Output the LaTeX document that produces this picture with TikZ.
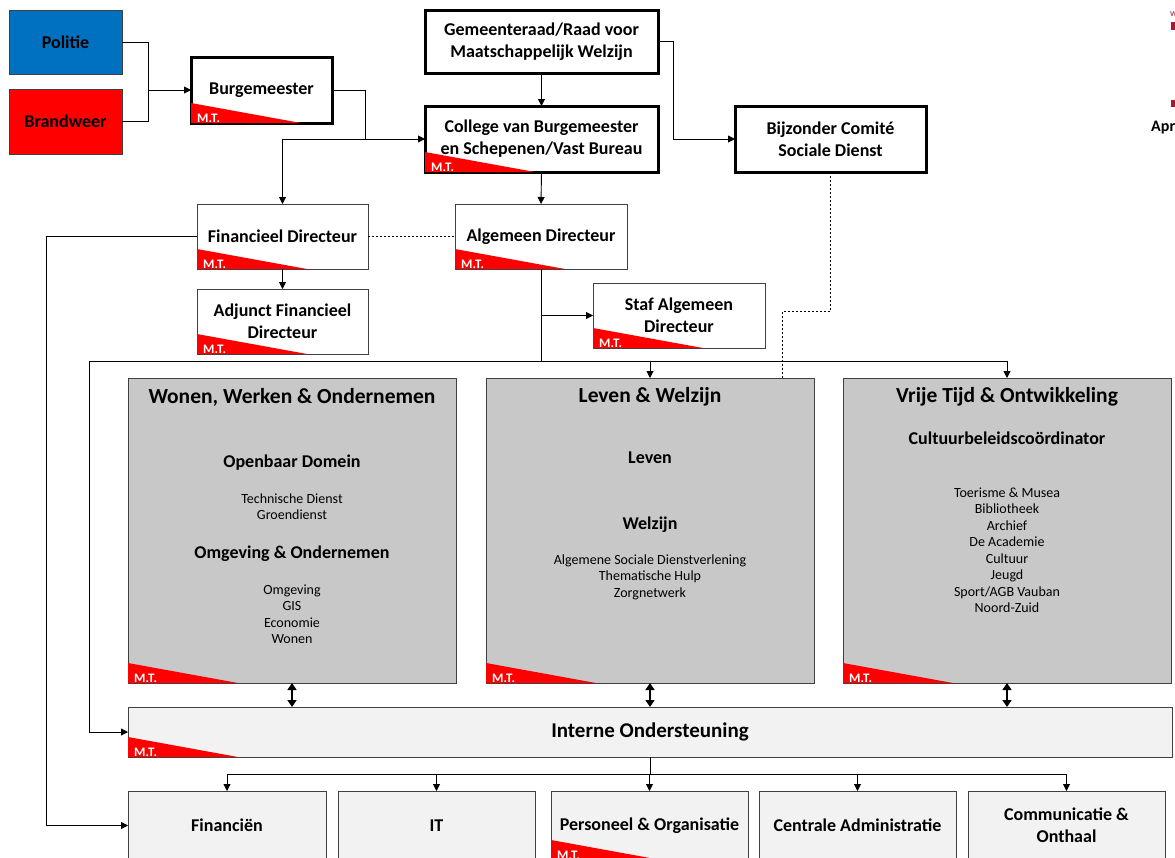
\documentclass[tikz,border=0pt]{standalone}
\usepackage{fontspec}
\setmainfont{Carlito}
\usetikzlibrary{arrows.meta,calc}
\definecolor{polblue}{HTML}{0070C0}
\definecolor{firered}{HTML}{FF0000}
\definecolor{mtred}{HTML}{FF0000}
\definecolor{deptgray}{HTML}{C8C8C8}
\definecolor{supgray}{HTML}{F2F2F2}
\definecolor{edge}{HTML}{404040}
\definecolor{logored}{HTML}{A6192E}
\newcommand{\mtflag}[1]{%
  \fill[mtred] (#1.south west) -- ++(0,-20) -- ++(110,20) -- cycle;
  \node[mtlabel] (#1-mt) at ($(#1.south west)+(6,-1)$) {M.T.};
}

\begin{document}
\begin{tikzpicture}[x=1pt,y=-1pt,
  lbl/.style={font=\fontsize{18}{22}\selectfont\bfseries, align=center},
  unitbox/.style={lbl, rectangle, draw=edge, line width=0.8pt, inner sep=0pt, outer sep=0pt},
  govbox/.style={unitbox, draw=black, line width=3pt},
  mgmtbox/.style={unitbox, minimum width=171pt, minimum height=65pt},
  deptbox/.style={rectangle, draw=edge, fill=deptgray, line width=0.8pt, minimum width=328pt, minimum height=305pt, outer sep=0pt},
  supbox/.style={unitbox, fill=supgray, minimum height=69pt},
  depttitle/.style={font=\fontsize{21.5}{26}\selectfont\bfseries},
  items/.style={font=\fontsize{14}{16.5}\selectfont, align=center},
  mtlabel/.style={font=\fontsize{13}{13}\selectfont\bfseries, text=white, anchor=base west, inner sep=0pt},
  arr/.style={draw, line width=0.9pt, -{Triangle[length=7pt,width=7pt]}},
  dbl/.style={draw, line width=1.5pt, {Triangle[length=7pt,width=9pt]}-{Triangle[length=7pt,width=9pt]}},
  wire/.style={draw, line width=0.9pt},
  dashlink/.style={draw, line width=0.8pt, dash pattern=on 2pt off 2pt},
]
\useasboundingbox (0,0) rectangle (1175,857);

% politieke top
\node[unitbox, fill=polblue, minimum width=113pt, minimum height=64pt] (politie) at (65.5,42) {Politie};
\node[unitbox, fill=firered, minimum width=113pt, minimum height=65pt] (brand) at (65.5,121.5) {Brandweer};
\node[govbox, minimum width=141pt, minimum height=66pt] (burg) at (261.5,90) {Burgemeester};
\node[govbox, minimum width=233pt, minimum height=63pt] (gemeente) at (541.5,41.5) {Gemeenteraad/Raad voor\\Maatschappelijk Welzijn};
\node[govbox, minimum width=233pt, minimum height=66pt] (college) at (541.5,139) {College van Burgemeester\\en Schepenen/Vast Bureau};
\node[govbox, minimum width=191pt, minimum height=66pt] (bijz) at (830.5,139) {Bijzonder Comité\\Sociale Dienst};

% directie
\node[mgmtbox] (findir) at (282.5,236.5) {Financieel Directeur};
\node[mgmtbox] (adjunct) at (282.5,321.5) {Adjunct Financieel\\Directeur};
\node[mgmtbox, minimum width=172pt] (algdir) at (541,236.5) {Algemeen Directeur};
\node[mgmtbox, minimum width=172pt] (staf) at (679,315.5) {Staf Algemeen\\Directeur};

% departementen
\node[deptbox] (wonen) at (292,530.5) {};
\node[deptbox] (leven) at (650,530.5) {};
\node[deptbox] (vrije) at (1007,530.5) {};

\node[depttitle] (wonen-title) at (292,397) {Wonen, Werken \& Ondernemen};
\node[lbl] (openbaar) at (292,463) {Openbaar Domein};
\node[items] (openbaar-items) at (292,506.5) {Technische Dienst\\Groendienst};
\node[lbl] (omgeving) at (292,554) {Omgeving \& Ondernemen};
\node[items] (omgeving-items) at (292,614) {Omgeving\\GIS\\Economie\\Wonen};

\node[depttitle] (leven-title) at (650,397) {Leven \& Welzijn};
\node[lbl] (leven-sub) at (650,458) {Leven};
\node[lbl] (welzijn) at (650,525) {Welzijn};
\node[items] (welzijn-items) at (650,577) {Algemene Sociale Dienstverlening\\Thematische Hulp\\Zorgnetwerk};

\node[depttitle] (vrije-title) at (1007,397) {Vrije Tijd \& Ontwikkeling};
\node[lbl] (cultuur) at (1007,438) {Cultuurbeleidscoördinator};
\node[items] (cultuur-items) at (1007,550) {Toerisme \& Musea\\Bibliotheek\\Archief\\De Academie\\Cultuur\\Jeugd\\Sport/AGB Vauban\\Noord-Zuid};

% ondersteuning
\node[supbox, font=\fontsize{21}{25}\selectfont\bfseries, minimum width=1044pt, minimum height=50pt] (interne) at (650,732) {Interne Ondersteuning};
\node[supbox, minimum width=198pt] (fin) at (227,825.5) {Financiën};
\node[supbox, minimum width=197pt] (it) at (436.5,825.5) {IT};
\node[supbox, minimum width=197pt] (peo) at (649.5,825.5) {Personeel \& Organisatie};
\node[supbox, minimum width=197pt] (cadm) at (857.5,825.5) {Centrale Administratie};
\node[supbox, minimum width=197pt] (comm) at (1066.5,825.5) {Communicatie \&\\Onthaal};

\foreach \b in {burg,college,findir,adjunct,algdir,staf,wonen,leven,vrije,interne,peo}
  {\mtflag{\b}}

% verbindingen
\coordinate (pbjoin) at (148,90);
\draw[wire] (politie.east) -| (pbjoin);
\draw[wire] (brand.east) -| (pbjoin);
\draw[arr] (pbjoin) -- (burg.west);

\coordinate (bcjoin) at (365,139);
\draw[wire] (burg.east) -| (bcjoin);
\draw[arr] (bcjoin) -- (college.west);
\draw[arr] (bcjoin) -| (findir.north);

\draw[arr] (gemeente.south) -- (college.north);
\draw[arr] (gemeente.east) -- ++(15,0) |- (bijz.west);
\draw[arr] (college.south) -- (algdir.north);

\draw[dashlink] (findir.east) -- (algdir.west);
\draw[arr] (findir.south) -- (adjunct.north);
\draw[arr] (findir.west) -- ++(-151,0) |- (fin.west);

\coordinate (bar) at (541,361);
\draw[wire] (algdir.south) -- (bar);
\draw[arr] (algdir.south |- staf.west) -- (staf.west);
\draw[arr] (bar) -| (vrije.north);
\draw[arr] (bar -| leven.north) -- (leven.north);
\draw[arr] (bar) -- ++(-452,0) |- (interne.west);

\coordinate (dashturn) at (782,311);
\draw[dashlink] (bijz.south) |- (dashturn) -- (dashturn |- leven.north);

\foreach \d in {wonen,leven,vrije}
  \draw[dbl] (\d.south) -- (\d.south |- interne.north);

\draw[wire] (interne.south) -- ++(0,17) coordinate (ibar);
\foreach \b in {fin,it,peo,cadm,comm}
  \draw[arr] (ibar) -| (\b.north);

% logo rand
\fill[logored] (1171,22) rectangle (1175,30);
\fill[logored] (1171,100) rectangle (1175,107);
\node[font=\fontsize{10}{10}\selectfont, text=logored, anchor=base west, inner sep=0pt] (logo-w) at (1170,16) {w};
\node[font=\fontsize{16}{18}\selectfont\bfseries, anchor=base west, inner sep=0pt] (apr) at (1151,131) {Apr};
\end{tikzpicture}
\end{document}
